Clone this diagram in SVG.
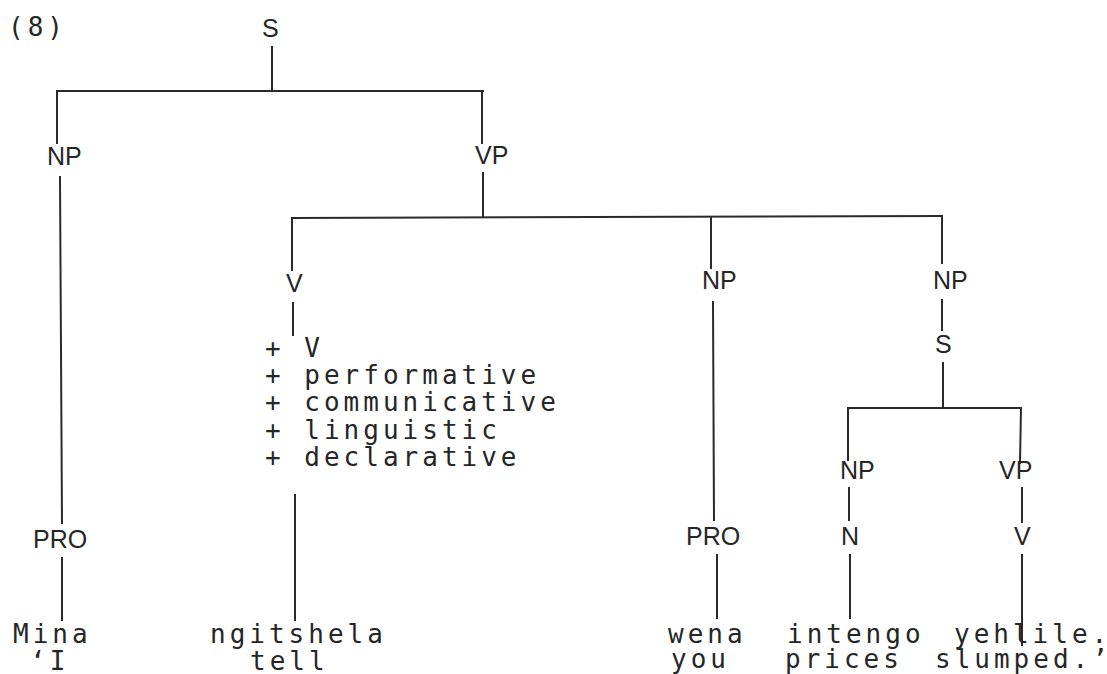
<svg xmlns="http://www.w3.org/2000/svg" width="1107" height="674" viewBox="0 0 1107 674">
<style>
.lbl{font-family:"Liberation Sans",Arial,sans-serif;font-size:25px;fill:#262626}
.mono{font-family:"DejaVu Sans Mono","Liberation Mono",monospace;font-size:26px;letter-spacing:4px;fill:#262626}
.last{letter-spacing:0}
.edge{stroke:#2a2a2a;stroke-width:2;fill:none;stroke-linecap:square}
</style>
<rect width="1107" height="674" fill="#ffffff"/>
<g id="number"><text class="mono" x="8" y="36">(8)</text></g>
<g id="connectors" class="edge">
<path d="M272 47V89"/>
<path d="M57 91H483"/>
<path d="M57 91V143"/>
<path d="M482 91V143"/>
<path d="M60 177L62 523"/>
<path d="M62 558V620"/>
<path d="M483 173V217"/>
<path d="M292 218L942 216"/>
<path d="M292 218V270"/>
<path d="M293 303V335"/>
<path d="M295 495V620"/>
<path d="M711 217V268"/>
<path d="M713 302L714 520"/>
<path d="M717 555V618"/>
<path d="M942 216V263"/>
<path d="M942 300V330"/>
<path d="M943 363V407"/>
<path d="M848 408H1021"/>
<path d="M848 408V460"/>
<path d="M1021 408L1020 463"/>
<path d="M849 488V520"/>
<path d="M1022 488V522"/>
<path d="M850 555V618"/>
<path d="M1022 555V645"/>
</g>
<g id="S-root"><text class="lbl" x="262" y="37">S</text></g>
<g id="NP-subj"><text class="lbl" x="47" y="165">NP</text></g>
<g id="VP-main"><text class="lbl" x="475" y="164">VP</text></g>
<g id="PRO-subj"><text class="lbl" x="33" y="548">PRO</text></g>
<g id="word-mina"><text class="mono" x="13" y="643">Mina</text><text class="mono" x="30" y="670">‘I</text></g>
<g id="V-main"><text class="lbl" x="286" y="292">V</text></g>
<g id="features">
<text class="mono" x="265" y="357">+ V</text>
<text class="mono" x="265" y="384">+ performative</text>
<text class="mono" x="265" y="411">+ communicative</text>
<text class="mono" x="265" y="439">+ linguistic</text>
<text class="mono" x="265" y="466">+ declarative</text>
</g>
<g id="word-ngitshela"><text class="mono" x="210" y="643">ngitshela</text><text class="mono" x="250" y="670">tell</text></g>
<g id="NP-obj"><text class="lbl" x="702" y="289">NP</text></g>
<g id="PRO-obj"><text class="lbl" x="686" y="545">PRO</text></g>
<g id="word-wena"><text class="mono" x="668" y="643">wena</text><text class="mono" x="671" y="668">you</text></g>
<g id="NP-comp"><text class="lbl" x="933" y="289">NP</text></g>
<g id="S-comp"><text class="lbl" x="935" y="353">S</text></g>
<g id="NP-emb"><text class="lbl" x="840" y="479">NP</text></g>
<g id="N-emb"><text class="lbl" x="841" y="545">N</text></g>
<g id="word-intengo"><text class="mono" x="787" y="643">intengo</text><text class="mono" x="785" y="668">prices</text></g>
<g id="VP-emb"><text class="lbl" x="999" y="479">VP</text></g>
<g id="V-emb"><text class="lbl" x="1014" y="545">V</text></g>
<g id="word-yehlile"><text class="mono" x="954" y="643">yehlile<tspan class="last">.</tspan></text><text class="mono" x="935" y="668">slumped.<tspan class="last">’</tspan></text></g>
</svg>
